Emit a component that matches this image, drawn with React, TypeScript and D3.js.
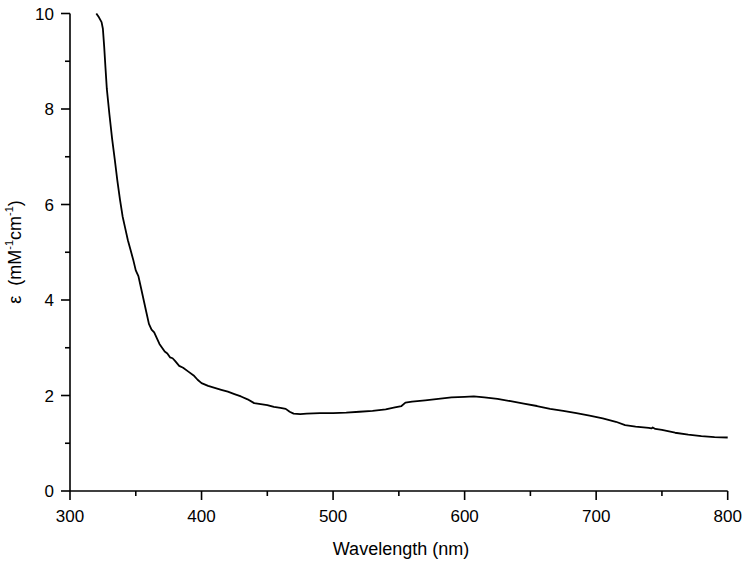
import React from "react";
import * as d3 from "d3";

const wavelengths = [
  320, 322, 324, 325, 326, 327, 328, 330, 332, 334, 336, 338, 340, 342, 344, 346, 348, 350,
  352, 354, 356, 358, 360, 362, 364, 366, 368, 370, 372, 374, 376, 378, 380, 383, 386, 390,
  394, 397, 400, 405, 410, 415, 420, 425, 430, 435, 440, 445, 450, 455, 460, 464, 467, 470,
  475, 480, 490, 500, 510, 520, 530, 540, 547, 552, 555, 560, 570, 580, 590, 600, 607, 615,
  625, 635, 645, 655, 665, 675, 685, 695, 705, 715, 722, 730, 740, 742, 743, 745, 750, 760,
  770, 780, 790, 800,
];
const epsilon = [
  10.0, 9.92, 9.82, 9.68, 9.3, 8.85, 8.42, 7.88, 7.38, 6.95, 6.5, 6.1, 5.75, 5.5, 5.25, 5.05, 4.85, 4.62,
  4.5, 4.25, 4.0, 3.75, 3.5, 3.38, 3.32, 3.2, 3.08, 3.0, 2.92, 2.88, 2.8, 2.78, 2.72, 2.62, 2.58, 2.5,
  2.42, 2.33, 2.26, 2.2, 2.16, 2.12, 2.08, 2.03, 1.98, 1.92, 1.84, 1.82, 1.8, 1.76, 1.74, 1.72, 1.66, 1.62,
  1.61, 1.62, 1.63, 1.63, 1.64, 1.66, 1.68, 1.71, 1.75, 1.78, 1.85, 1.87, 1.9, 1.93, 1.96, 1.97, 1.98, 1.96,
  1.93, 1.88, 1.83, 1.78, 1.72, 1.68, 1.63, 1.58, 1.52, 1.45, 1.38, 1.35, 1.32, 1.31, 1.33, 1.3, 1.28, 1.22,
  1.18, 1.15, 1.13, 1.12,
];
const xMajorTicks = [300, 400, 500, 600, 700, 800];
const xMinorTicks = [350, 450, 550, 650, 750];
const yMajorTicks = [0, 2, 4, 6, 8, 10];
const yMinorTicks = [1, 3, 5, 7, 9];

const W = 747;
const H = 568;
const FONT = "'Liberation Sans', Arial, sans-serif";

export default function App() {
  const x = d3.scaleLinear().domain([300, 800]).range([70, 727.7]);
  const y = d3.scaleLinear().domain([0, 10]).range([491, 13.5]);
  const data = wavelengths.map((w, i) => [w, epsilon[i]] as [number, number]);
  const line = d3
    .line<[number, number]>()
    .x((d) => x(d[0]))
    .y((d) => y(d[1]));

  return (
    <svg
      width={W}
      height={H}
      style={{ position: "absolute", left: 0, top: 0, background: "#fff" }}
      fontFamily={FONT}
    >
      <rect width={W} height={H} fill="#fff" />
      <line x1={x(300)} x2={x(800)} y1={y(0)} y2={y(0)} stroke="#000" strokeWidth={1.6} />
      <line x1={x(300)} x2={x(300)} y1={y(0)} y2={y(10)} stroke="#000" strokeWidth={1.6} />
      {xMajorTicks.map((t) => (
        <g key={"xm" + t}>
          <line x1={x(t)} x2={x(t)} y1={y(0)} y2={y(0) + 9} stroke="#000" strokeWidth={1.6} />
          <text x={x(t)} y={521.5} textAnchor="middle" fontSize={17} fill="#000">
            {t}
          </text>
        </g>
      ))}
      {xMinorTicks.map((t) => (
        <line key={"xn" + t} x1={x(t)} x2={x(t)} y1={y(0)} y2={y(0) + 5} stroke="#000" strokeWidth={1.6} />
      ))}
      {yMajorTicks.map((t) => (
        <g key={"ym" + t}>
          <line x1={x(300) - 9} x2={x(300)} y1={y(t)} y2={y(t)} stroke="#000" strokeWidth={1.6} />
          <text x={54} y={y(t) + 6} textAnchor="end" fontSize={17} fill="#000">
            {t}
          </text>
        </g>
      ))}
      {yMinorTicks.map((t) => (
        <line key={"yn" + t} x1={x(300) - 5} x2={x(300)} y1={y(t)} y2={y(t)} stroke="#000" strokeWidth={1.6} />
      ))}
      <path d={line(data) || ""} fill="none" stroke="#000" strokeWidth={1.8} strokeLinejoin="round" />
      <text x={401} y={555} textAnchor="middle" fontSize={18} fill="#000">
        Wavelength (nm)
      </text>
      <text
        transform={`translate(21, 252) rotate(-90)`}
        textAnchor="middle"
        fontSize={18}
        fill="#000"
      >
        <tspan>{"ε\u00A0\u00A0(mM"}</tspan>
        <tspan fontSize={11} dy={-8}>-1</tspan>
        <tspan dy={8}>cm</tspan>
        <tspan fontSize={11} dy={-8}>-1</tspan>
        <tspan dy={8}>)</tspan>
      </text>
    </svg>
  );
}
